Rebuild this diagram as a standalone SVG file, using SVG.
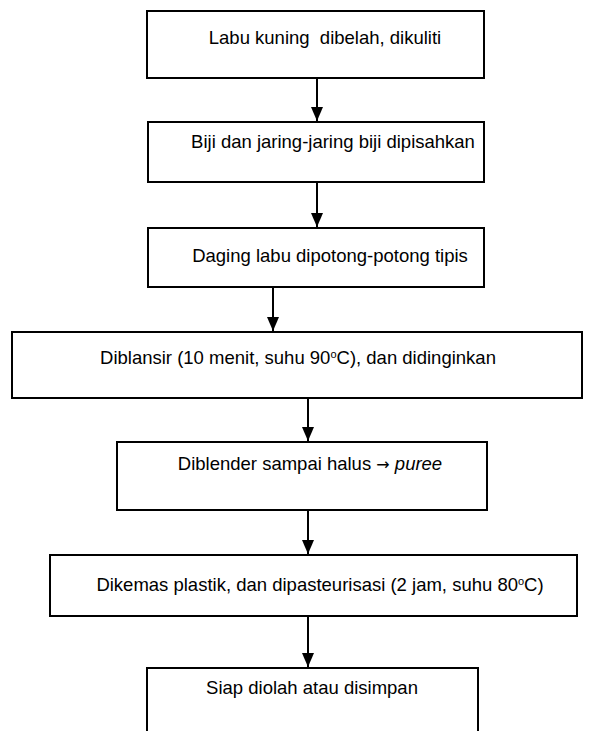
<svg xmlns="http://www.w3.org/2000/svg" width="592" height="731" viewBox="0 0 592 731">
<style>
.box{fill:#fff;stroke:#000;stroke-width:2}
.t{font-family:"Liberation Sans",Arial,sans-serif;font-size:18.5px;fill:#000;text-anchor:middle;white-space:pre}
.c{stroke:#000;stroke-width:2;fill:none}
</style>
<defs>
<marker id="ah" viewBox="0 0 14 12" refX="14" refY="6" markerWidth="7" markerHeight="6" orient="auto" markerUnits="strokeWidth">
<path d="M0,0 L14,6 L0,12 z" fill="#000"/>
</marker>
</defs>
<rect width="592" height="731" fill="#fff"/>
<g id="n1"><rect class="box" x="147" y="11" width="337" height="67"/><text class="t" x="325" y="44" xml:space="preserve">Labu kuning  dibelah, dikuliti</text></g>
<g id="n2"><rect class="box" x="148" y="122" width="336" height="60"/><text class="t" x="333" y="148">Biji dan jaring-jaring biji dipisahkan</text></g>
<g id="n3"><rect class="box" x="148" y="228" width="336" height="59"/><text class="t" x="330" y="262">Daging labu dipotong-potong tipis</text></g>
<g id="n4"><rect class="box" x="12" y="332" width="570" height="66"/><text class="t" x="298" y="364">Diblansir (10 menit, suhu 90<tspan font-size="11" dy="-6">o</tspan><tspan dy="6">C), dan didinginkan</tspan></text></g>
<g id="n5"><rect class="box" x="117" y="442" width="370" height="68"/><text class="t" x="310" y="470">Diblender sampai halus <tspan font-family="DejaVu Sans" font-size="16">→</tspan> <tspan font-style="italic">puree</tspan></text></g>
<g id="n6"><rect class="box" x="50" y="555" width="527" height="61"/><text class="t" x="320" y="591">Dikemas plastik, dan dipasteurisasi (2 jam, suhu 80<tspan font-size="11" dy="-6">o</tspan><tspan dy="6">C)</tspan></text></g>
<g id="n7"><rect class="box" x="147" y="668" width="331" height="80"/><text class="t" x="312" y="694">Siap diolah atau disimpan</text></g>
<g id="connectors">
<line class="c" x1="317" y1="79" x2="317" y2="121" marker-end="url(#ah)"/>
<line class="c" x1="317" y1="183" x2="317" y2="227" marker-end="url(#ah)"/>
<line class="c" x1="273" y1="288" x2="273" y2="331" marker-end="url(#ah)"/>
<line class="c" x1="308" y1="399" x2="308" y2="441" marker-end="url(#ah)"/>
<line class="c" x1="308" y1="511" x2="308" y2="554" marker-end="url(#ah)"/>
<line class="c" x1="308" y1="617" x2="308" y2="667" marker-end="url(#ah)"/>
</g>
</svg>
